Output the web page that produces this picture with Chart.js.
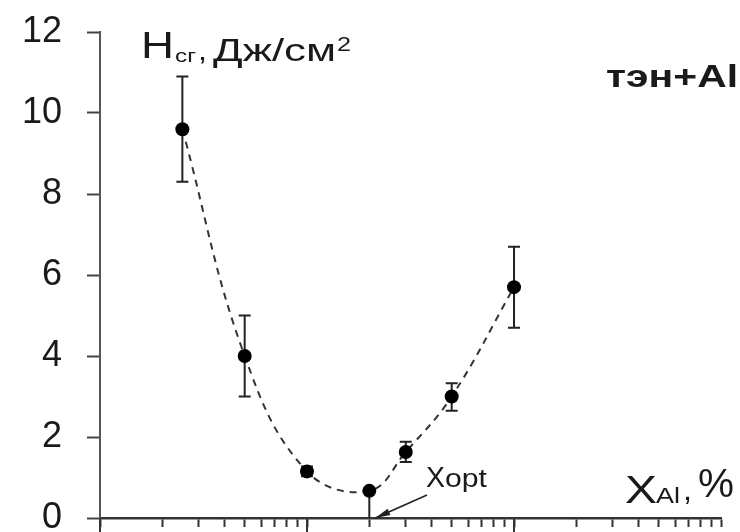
<!DOCTYPE html>
<html>
<head>
<meta charset="utf-8">
<script src="https://cdn.jsdelivr.net/npm/chart.js@4.4.1/dist/chart.umd.min.js"></script>
<style>
  html, body { margin: 0; padding: 0; background: #fff; }
  canvas { display: block; }
</style>
</head>
<body>
<canvas id="chart" width="740" height="532"></canvas>
<script>
// Al content, % (log axis) and critical energy density H_сг, Дж/см2
var xAl = [0.25, 0.5, 1, 2, 3, 5, 10];
var hCr = [9.6, 4.0, 1.15, 0.67, 1.63, 3.0, 5.7];
var errUp = [1.3, 1.0, 0.12, 0, 0.25, 0.33, 1.0];
var errDown = [1.3, 1.0, 0.12, 0.67, 0.25, 0.35, 1.0];
var yTicks = [0, 2, 4, 6, 8, 10, 12];
var xTicks = [0.1, 0.2, 0.3, 0.4, 0.5, 0.6, 0.7, 0.8, 0.9,
              1, 2, 3, 4, 5, 6, 7, 8, 9,
              10, 20, 30, 40, 50, 60, 70, 80, 90, 100];
var xMajor = [0.1, 1, 10];
var xOpt = 2;

// draw text squeezed/stretched into a given width
function fitText(ctx, s, x, y, font, w) {
  ctx.save();
  ctx.font = font;
  var m = ctx.measureText(s).width;
  ctx.translate(x, y);
  ctx.scale(w / m, 1);
  ctx.fillText(s, 0, 0);
  ctx.restore();
}

var extras = {
  id: 'extras',
  beforeDatasetsDraw: function(chart) {
    var ctx = chart.ctx, xs = chart.scales.x, ys = chart.scales.y;
    ctx.save();
    ctx.strokeStyle = '#222';
    ctx.lineWidth = 2;
    for (var i = 0; i < xAl.length; i++) {
      var px = xs.getPixelForValue(xAl[i]);
      var top = ys.getPixelForValue(hCr[i] + errUp[i]);
      var bot = ys.getPixelForValue(hCr[i] - errDown[i]);
      ctx.beginPath();
      ctx.moveTo(px, top);
      ctx.lineTo(px, bot);
      if (errUp[i] > 0) { ctx.moveTo(px - 6, top); ctx.lineTo(px + 6, top); }
      if (hCr[i] - errDown[i] > 0.01) { ctx.moveTo(px - 6, bot); ctx.lineTo(px + 6, bot); }
      ctx.stroke();
    }
    ctx.restore();
  },
  afterDraw: function(chart) {
    var ctx = chart.ctx, xs = chart.scales.x, ys = chart.scales.y;
    var y0 = ys.getPixelForValue(0);
    ctx.save();
    // longer ticks on decades
    ctx.strokeStyle = '#333';
    ctx.lineWidth = 2;
    xMajor.forEach(function(v) {
      var px = xs.getPixelForValue(v);
      ctx.beginPath();
      ctx.moveTo(px, y0);
      ctx.lineTo(px, 532);
      ctx.stroke();
    });

    // arrow pointing to optimum
    var tipX = xs.getPixelForValue(xOpt) + 6;
    var tailX = 427, tailY = 495;
    var ang = Math.atan2(y0 - tailY, tipX - tailX);
    ctx.strokeStyle = '#222';
    ctx.lineWidth = 1.6;
    ctx.beginPath();
    ctx.moveTo(tailX, tailY);
    ctx.lineTo(tipX, y0);
    ctx.stroke();
    ctx.fillStyle = '#222';
    ctx.beginPath();
    ctx.moveTo(tipX, y0);
    ctx.lineTo(tipX - 15 * Math.cos(ang) + 3.5 * Math.sin(ang), y0 - 15 * Math.sin(ang) - 3.5 * Math.cos(ang));
    ctx.lineTo(tipX - 15 * Math.cos(ang) - 3.5 * Math.sin(ang), y0 - 15 * Math.sin(ang) + 3.5 * Math.cos(ang));
    ctx.closePath();
    ctx.fill();

    // labels
    ctx.fillStyle = '#1a1a1a';
    var F = '"Liberation Sans", Arial, sans-serif';
    fitText(ctx, 'Н', 141, 58, '36px ' + F, 33);
    fitText(ctx, 'сг', 175, 62, '19px ' + F, 21);
    fitText(ctx, ',', 198, 60, '28px ' + F, 9);
    fitText(ctx, 'Дж/см', 213, 61, '31px ' + F, 123);
    fitText(ctx, '2', 337, 51, '20px ' + F, 14);

    fitText(ctx, 'тэн+Al', 606, 87, 'bold 32px ' + F, 132);

    fitText(ctx, 'X', 426, 487, '30px ' + F, 19);
    fitText(ctx, 'opt', 445, 487, '26px ' + F, 42);

    fitText(ctx, 'X', 625, 503, '39px ' + F, 32);
    fitText(ctx, 'Al', 656, 503, '22px ' + F, 24);
    fitText(ctx, ',', 683, 500, '30px ' + F, 9);
    fitText(ctx, '%', 698, 497, '40px ' + F, 36);
    ctx.restore();
  }
};

var config = {
  type: 'line',
  data: {
    datasets: [
      {
        label: 'points',
        data: xAl.map(function(x, i) { return { x: x, y: hCr[i] }; }),
        showLine: false,
        pointRadius: 7,
        pointBackgroundColor: '#000',
        pointBorderWidth: 0
      },
      {
        label: 'fit',
        data: xAl.map(function(x, i) { return { x: x, y: hCr[i] }; }),
        borderColor: '#333',
        borderWidth: 2,
        borderDash: [7, 6],
        tension: 0.4,
        pointRadius: 0,
        fill: false
      }
    ]
  },
  options: {
    responsive: false,
    animation: false,
    layout: { padding: { top: 32, right: 19, left: 0, bottom: 0 } },
    plugins: { legend: { display: false }, tooltip: { enabled: false } },
    scales: {
      x: {
        type: 'logarithmic',
        min: 0.1,
        max: 100,
        afterBuildTicks: function(s) { s.ticks = xTicks.map(function(v) { return { value: v }; }); },
        afterFit: function(s) { s.height = 14; s.paddingLeft = 0; s.paddingRight = 0; },
        ticks: { display: false, autoSkip: false },
        grid: { drawOnChartArea: false, drawTicks: true, tickLength: 9, tickColor: '#333', tickWidth: 2 },
        border: { color: '#333', width: 2.5 }
      },
      y: {
        min: 0,
        max: 12,
        afterBuildTicks: function(s) { s.ticks = yTicks.map(function(v) { return { value: v }; }); },
        afterFit: function(s) { s.width = 100; s.paddingTop = 0; s.paddingBottom = 0; },
        ticks: {
          color: '#1a1a1a',
          padding: 25,
          font: { family: '"Liberation Sans", Arial, sans-serif', size: 36 }
        },
        grid: { drawOnChartArea: false, tickLength: 13, tickColor: '#444', tickWidth: 2 },
        border: { color: '#555', width: 2 }
      }
    }
  },
  plugins: [extras]
};

window.onload = function() {
  var ctx = document.getElementById('chart').getContext('2d');
  window.myChart = new Chart(ctx, config);
};
</script>
</body>
</html>
